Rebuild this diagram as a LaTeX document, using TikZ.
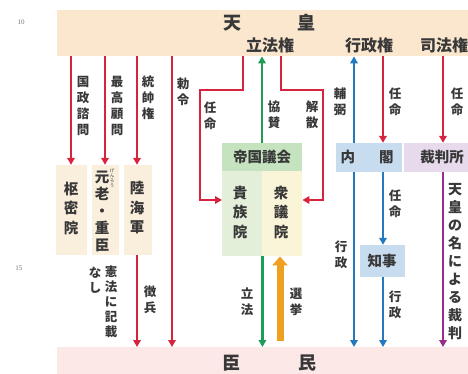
\documentclass[tikz,border=0pt]{standalone}
\usepackage{fontspec}
\setmainfont{Noto Sans CJK JP}
\newfontfamily\numfont{Liberation Serif}
\usetikzlibrary{arrows.meta}
\definecolor{peach}{HTML}{FBE6CE}
\definecolor{pinkband}{HTML}{FDE8E8}
\definecolor{lboxc}{HTML}{FAEEDC}
\definecolor{gdark}{HTML}{C6E3C0}
\definecolor{glight}{HTML}{E3EFD8}
\definecolor{ylight}{HTML}{FAF5D8}
\definecolor{bluebox}{HTML}{C8DCF0}
\definecolor{purplebox}{HTML}{E6DAEC}
\definecolor{cred}{HTML}{D6243F}
\definecolor{cgreen}{HTML}{1E9B57}
\definecolor{cblue}{HTML}{2378BE}
\definecolor{cpurple}{HTML}{9B2C8C}
\definecolor{corange}{HTML}{F0A020}
\definecolor{txt}{HTML}{383838}
\begin{document}
\begin{tikzpicture}[x=1pt,y=-1pt,
  arr/.style={line width=2.2pt,-{Triangle[width=7.5pt,length=7pt]}},
  redarr/.style={arr,draw=cred},
  greenarr/.style={arr,draw=cgreen},
  bluearr/.style={arr,draw=cblue},
  purplearr/.style={arr,draw=cpurple},
  orangearr/.style={line width=7pt,draw=corange,-{Triangle[width=15pt,length=9pt]}},
  band/.style={rectangle,inner sep=0pt,anchor=north west,minimum width=412pt},
  vlab/.style={align=center,inner sep=0pt,text=txt,font=\bfseries\fontsize{12.5}{16}\selectfont},
  boxtxt/.style={align=center,inner sep=0pt,text=txt,font=\bfseries\fontsize{14.5}{19.5}\selectfont},
  box/.style={rectangle,inner sep=0pt},
  bandtxt/.style={inner sep=0pt,text=txt,font=\bfseries\fontsize{16}{18}\selectfont},
  titletxt/.style={inner sep=0pt,text=txt,font=\bfseries\fontsize{18}{20}\selectfont},
  numtxt/.style={inner sep=0pt,text=black!55,font=\numfont\fontsize{7}{8}\selectfont}
]
\useasboundingbox (0,0) rectangle (468,374);
\clip (0,0) rectangle (468,374);

% bands
\node (tenno) [band,fill=peach,minimum height=46pt] at (57,10) {};
\node (shinmin) [band,fill=pinkband,minimum height=30pt] at (57,347) {};
\node (ten) [titletxt] at (232,23) {天};
\node (ou) [titletxt] at (306,23) {皇};
\node (rippoken) [bandtxt] at (270,45) {立法権};
\node (gyoseiken) [bandtxt] at (369,45) {行政権};
\node (shihoken) [bandtxt] at (444,45) {司法権};
\node (shin) [titletxt] at (231,363) {臣};
\node (min) [titletxt] at (307,363) {民};

% margin numbers
\node (n10) [numtxt] at (21,22) {10};
\node (n15) [numtxt] at (19,268) {15};

% left boxes
\node (sumitsu) [box,fill=lboxc,minimum width=31pt,minimum height=90pt] at (71.5,210) {};
\node (sumitsuT) [boxtxt] at (71,208) {枢\\密\\院};
\node (genro) [box,fill=lboxc,minimum width=27pt,minimum height=90pt] at (105,210) {};
\node (genroT) [boxtxt,font=\bfseries\fontsize{14.5}{17}\selectfont] at (102,211) {元\\老\\・\\重\\臣};
\node (genroR) [inner sep=0pt,align=center,text=txt,font=\fontsize{4.5}{5}\selectfont] at (112,178) {げ\\ん\\ろ\\う};
\node (rikukai) [box,fill=lboxc,minimum width=28pt,minimum height=90pt] at (138,210) {};
\node (rikukaiT) [boxtxt] at (137,208) {陸\\海\\軍};

% left arrows
\draw[redarr] (71,0 |- tenno.south) -- (71,0 |- sumitsu.north);
\draw[redarr] (105,0 |- tenno.south) -- (105,0 |- genro.north);
\draw[redarr] (137,0 |- tenno.south) -- (137,0 |- rikukai.north);
\draw[redarr] (137,0 |- rikukai.south) -- (137,0 |- shinmin.north);
\draw[redarr] (172,0 |- tenno.south) -- (172,0 |- shinmin.north);
\node (l1) [vlab] at (83,106) {国\\政\\諮\\問};
\node (l2) [vlab] at (117,106) {最\\高\\顧\\問};
\node (l3) [vlab] at (148,98) {統\\帥\\権};
\node (l4) [vlab] at (183,92) {勅\\令};
\node (l5) [vlab] at (150,300) {徴\\兵};
\node (l6) [vlab,font=\bfseries\fontsize{12.5}{15}\selectfont] at (111,302) {憲\\法\\に\\記\\載};
\node (l7) [vlab,font=\bfseries\fontsize{12.5}{15}\selectfont] at (95,280) {な\\し};

% imperial diet
\node (teikoku) [box,fill=gdark,minimum width=80pt,minimum height=28pt] at (262,157) {};
\node (teikokuT) [boxtxt] at (262,157) {帝国議会};
\node (kizoku) [box,fill=glight,minimum width=40pt,minimum height=85pt,anchor=north west] at (222,171) {};
\node (shugi) [box,fill=ylight,minimum width=40pt,minimum height=85pt,anchor=north west] at (262,171) {};
\node (kizokuT) [boxtxt] at (240,212) {貴\\族\\院};
\node (shugiT) [boxtxt] at (281,212) {衆\\議\\院};

\draw[redarr] (243,0 |- tenno.south) |- (200,90) |- (kizoku.west |- 0,200);
\draw[redarr] (281,0 |- tenno.south) |- (323,90) |- (shugi.east |- 0,200);
\draw[greenarr] (teikoku.north) -- (teikoku.north |- tenno.south);
\draw[greenarr] (kizoku.south east) -- (kizoku.south east |- shinmin.north);
\draw[orangearr] (280,341) -- (280,0 |- shugi.south);
\node (l8) [vlab] at (210,116) {任\\命};
\node (l9) [vlab] at (274,115) {協\\賛};
\node (l10) [vlab] at (312,115) {解\\散};
\node (l11) [vlab] at (247,302) {立\\法};
\node (l12) [vlab] at (296,302) {選\\挙};

% cabinet, governor, court
\node (naikaku) [box,fill=bluebox,minimum width=66pt,minimum height=29pt] at (369,157.5) {};
\node (naikakuT) [boxtxt] at (367,157.5) {内\hspace{24pt}閣};
\node (chiji) [box,fill=bluebox,minimum width=45pt,minimum height=32pt] at (382.5,261) {};
\node (chijiT) [boxtxt] at (382,261) {知事};
\node (saiban) [box,fill=purplebox,minimum width=76pt,minimum height=29pt] at (442,157.5) {};
\node (saibanT) [boxtxt] at (442,157.5) {裁判所};

\draw[bluearr] (354,0 |- naikaku.north) -- (354,0 |- tenno.south);
\draw[bluearr] (354,0 |- naikaku.south) -- (354,0 |- shinmin.north);
\draw[redarr] (383,0 |- tenno.south) -- (383,0 |- naikaku.north);
\draw[bluearr] (383,0 |- naikaku.south) -- (383,0 |- chiji.north);
\draw[bluearr] (383,0 |- chiji.south) -- (383,0 |- shinmin.north);
\draw[redarr] (443,0 |- tenno.south) -- (443,0 |- saiban.north);
\draw[purplearr] (443,0 |- saiban.south) -- (443,0 |- shinmin.north);

\node (l13) [vlab] at (340,102) {輔\\弼};
\node (l14) [vlab] at (395,102) {任\\命};
\node (l15) [vlab] at (457,102) {任\\命};
\node (l16) [vlab] at (395,204) {任\\命};
\node (l17) [vlab] at (341,255) {行\\政};
\node (l18) [vlab] at (395,305) {行\\政};
\node (l19) [vlab,font=\bfseries\fontsize{14}{18}\selectfont] at (455,262) {天\\皇\\の\\名\\に\\よ\\る\\裁\\判};
\end{tikzpicture}
\end{document}
